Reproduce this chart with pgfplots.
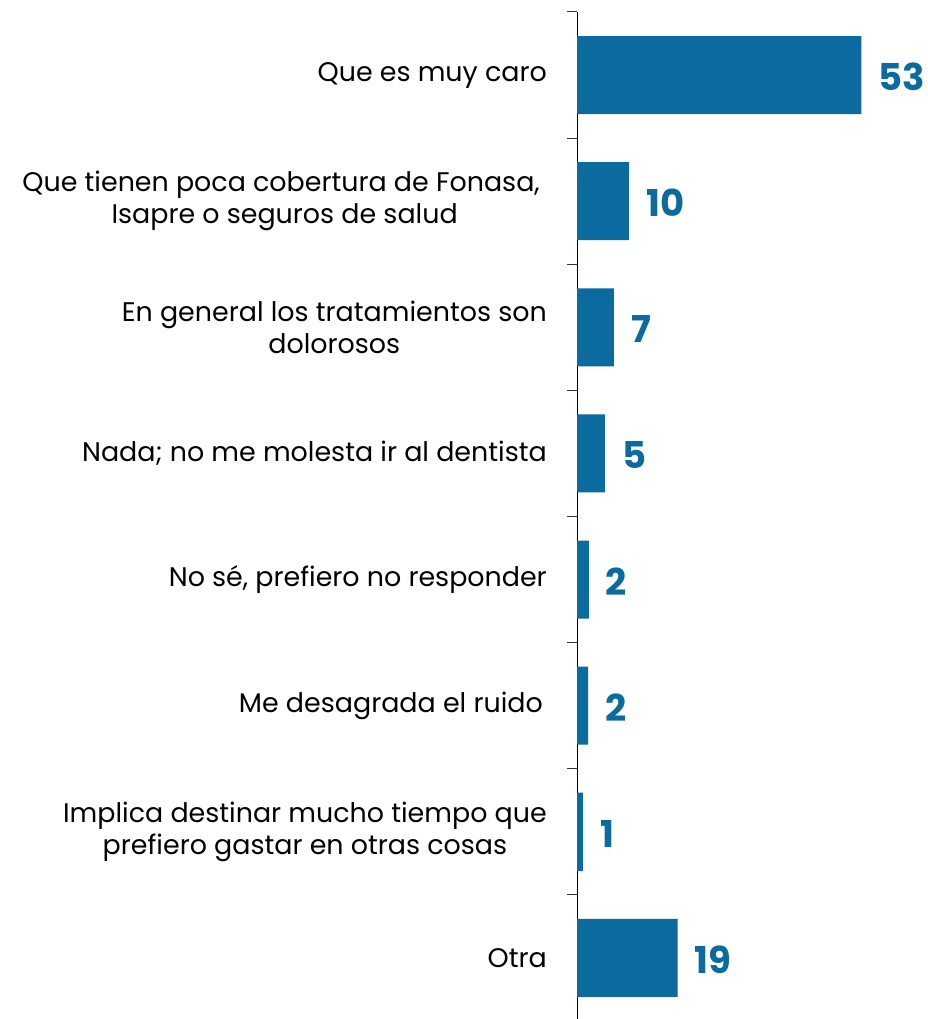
\documentclass[border=0pt]{standalone}
\usepackage{pgfplots}
\pgfplotsset{compat=1.18}
\usepackage{fontspec}
\setmainfont{Poppins}
\definecolor{barblue}{HTML}{0B6A9E}
\begin{document}
\begin{tikzpicture}[x=1pt,y=1pt]
\path[use as bounding box] (0,0) rectangle (927,1019);
\begin{axis}[
  at={(577pt,1007pt)}, anchor=north west,
  scale only axis, width=348pt, height=1009pt,
  xmin=0, xmax=65, ymin=0, ymax=8, y dir=reverse,
  axis x line=none, axis y line*=left,
  axis line style={-, black, line width=1pt},
  tick align=outside,
  xbar, bar width=78pt, bar shift=0pt,
  ytick={0.5,1.5,2.5,3.5,4.5,5.5,6.5,7.5},
  yticklabels={Que es muy caro,
    {Que tienen poca cobertura de Fonasa,\kern7pt\\Isapre o seguros de salud},
    {En general los tratamientos son\\dolorosos},
    {Nada; no me molesta ir al dentista},
    {No sé, prefiero no responder},
    {Me desagrada el ruido\kern4pt},
    {Implica destinar mucho tiempo que\\prefiero gastar en otras cosas},
    Otra},
  major tick length=0pt,
  extra y ticks={0,1,2,3,4,5,6,7},
  extra y tick labels={},
  extra y tick style={major tick length=10pt, tick style={black!80, line width=1pt}},
  yticklabel style={align=center, inner sep=0pt, xshift=-30pt,
    font=\fontsize{26.9}{32}\selectfont, text=black},
  point meta=explicit symbolic,
  nodes near coords,
  nodes near coords style={anchor=west, xshift=17pt, yshift=-2pt, inner sep=0pt,
    font=\fontsize{37}{37}\selectfont\bfseries, text=barblue},
  clip=false,
]
\addplot[fill=barblue, draw=none] coordinates {
  (53.1,0.5) [53]
  (9.7,1.5) [10]
  (6.9,2.5) [7]
  (5.2,3.5) [5]
  (2.2,4.5) [2]
  (2.1,5.5) [2]
  (1.1,6.5) [1]
  (18.8,7.5) [19]};
\end{axis}
\end{tikzpicture}
\end{document}
